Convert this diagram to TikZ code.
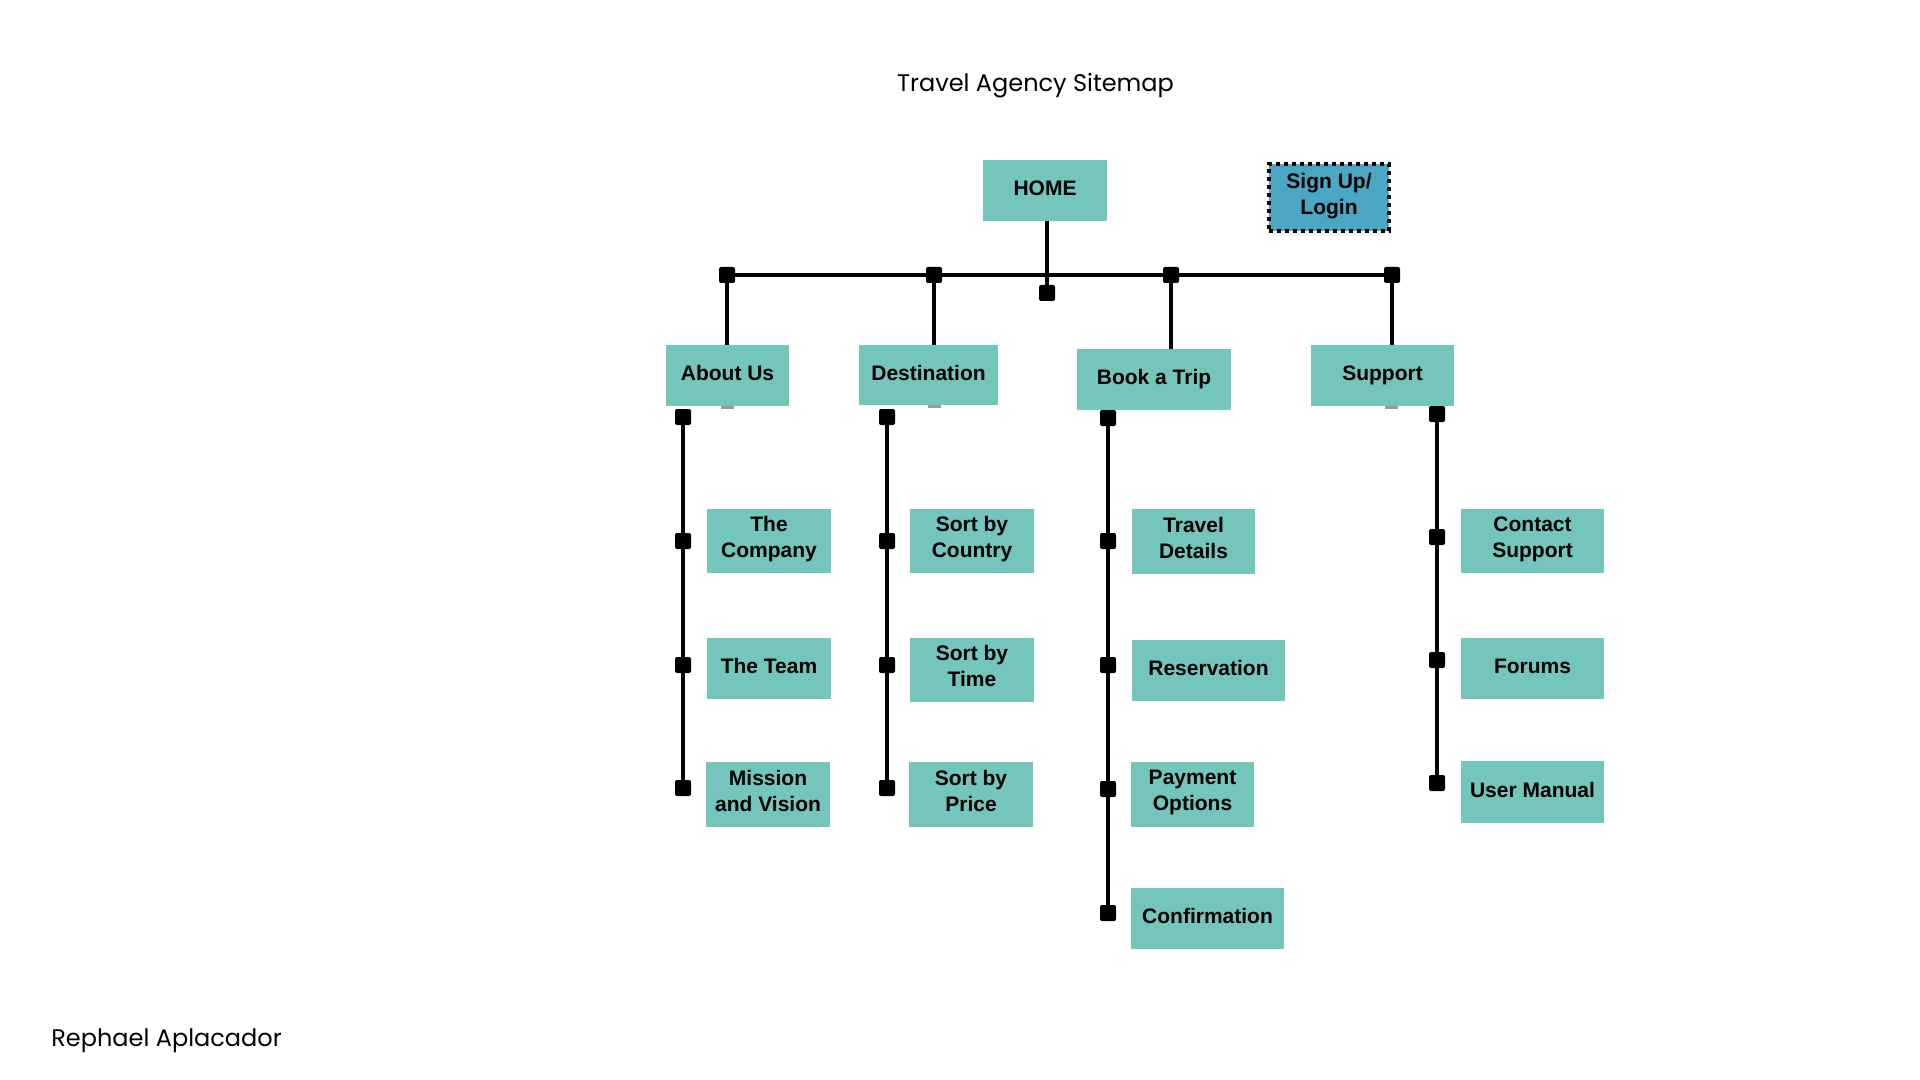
\documentclass[tikz,border=0pt]{standalone}
\usepackage{fontspec}
\setmainfont{Liberation Sans}
\newfontfamily\popfont{Poppins}
\definecolor{teal1}{HTML}{74C5BC}
\definecolor{blue1}{HTML}{4BA6C4}
\definecolor{tickgray}{HTML}{9A9A9A}
\tikzset{
  box/.style={rectangle,fill=teal1,draw=none,inner sep=0pt},
  lbl/.style={inner sep=0pt,align=center,font=\bfseries\fontsize{10.5}{13}\selectfont,
    execute at begin node=\strut,execute at end node=\strut},
  jn/.style={rectangle,fill=black,draw=none,minimum size=8pt,inner sep=0pt,rounded corners=1pt},
  wire/.style={line width=2pt,black},
  titlefont/.style={font=\popfont\fontsize{12}{14}\selectfont,inner sep=0pt}
}
\newcommand\mkbox[6]{\node[box,minimum width=#4*0.5pt,minimum height=#5*0.5pt] (#1) at (#2,#3) {};
  \node[lbl] (#1t) at ([yshift=0.1pt]#1.center) {#6};}
\newcommand\mkjn[3]{\node[jn] (#1) at (#2,#3) {};}
\begin{document}
\begin{tikzpicture}[x=0.5pt,y=-0.5pt]
\fill[white] (0,0) rectangle (1920,1080);
\useasboundingbox (0,0) rectangle (1920,1080);

% titles
\node[titlefont,anchor=base] (title) at (1035.5,91.5) {Travel Agency Sitemap};
\node[titlefont,anchor=base west] (author) at (51,1046) {Rephael Aplacador};

% gray ticks under level-1 boxes
\fill[tickgray] (720.5,405) rectangle (733.5,408.5);
\fill[tickgray] (927.5,404) rectangle (940.5,407.5);
\fill[tickgray] (1385,405) rectangle (1398,408.5);

% boxes
\mkbox{home}{1045}{190.5}{124}{61}{HOME}
\node[rectangle,fill=blue1,draw=black,line width=2pt,dash pattern=on 2pt off 2pt,
      minimum width=60pt,minimum height=33.5pt,inner sep=0pt] (signup) at (1329,197.5) {};
\node[lbl] (signupt) at ([yshift=-0.2pt]signup.center) {Sign Up/\\Login};

\mkbox{about}{727.5}{375.5}{123}{61}{About Us}
\mkbox{dest}{928.5}{375}{139}{60}{Destination}
\mkbox{book}{1154}{379.5}{154}{61}{Book a Trip}
\mkbox{support}{1382.5}{375.5}{143}{61}{Support}

\mkbox{company}{769}{541}{124}{64}{The\\Company}
\mkbox{team}{769}{668.5}{124}{61}{The Team}
\mkbox{mission}{768}{794.5}{124}{65}{Mission\\and Vision}

\mkbox{country}{972}{541}{124}{64}{Sort by\\Country}
\mkbox{time}{972}{670}{124}{64}{Sort by\\Time}
\mkbox{price}{971}{794.5}{124}{65}{Sort by\\Price}

\mkbox{travel}{1193.5}{541.5}{123}{65}{Travel\\Details}
\mkbox{reserv}{1208.5}{670.5}{153}{61}{Reservation}
\mkbox{payment}{1192.5}{794.5}{123}{65}{Payment\\Options}
\mkbox{confirm}{1207.5}{918.5}{153}{61}{Confirmation}

\mkbox{contact}{1532.5}{541}{143}{64}{Contact\\Support}
\mkbox{forums}{1532.5}{668.5}{143}{61}{Forums}
\mkbox{manual}{1532.5}{792}{143}{62}{User Manual}

% bus and junctions
\mkjn{j1}{727}{275}
\mkjn{j2}{934}{275}
\mkjn{j3}{1171}{275}
\mkjn{j4}{1392}{275}
\mkjn{jh}{1047}{293}
\draw[wire] (j1.center) -- (j4.center);
\draw[wire] (home.south -| jh) -- (jh.center);
\draw[wire] (j1.center) -- (j1 |- about.north);
\draw[wire] (j2.center) -- (j2 |- dest.north);
\draw[wire] (j3.center) -- (j3 |- book.north);
\draw[wire] (j4.center) -- (j4 |- support.north);

% About Us stack
\mkjn{a0}{683}{417}
\mkjn{a1}{683}{541}
\mkjn{a2}{683}{665}
\mkjn{a3}{683}{788}
\draw[wire] (a0.center) -- (a3.center);

% Destination stack
\mkjn{d0}{887}{417}
\mkjn{d1}{887}{541}
\mkjn{d2}{887}{665}
\mkjn{d3}{887}{788}
\draw[wire] (d0.center) -- (d3.center);

% Book a Trip stack
\mkjn{b0}{1108}{418}
\mkjn{b1}{1108}{541}
\mkjn{b2}{1108}{665}
\mkjn{b3}{1108}{789}
\mkjn{b4}{1108}{913}
\draw[wire] (b0.center) -- (b4.center);

% Support stack
\mkjn{s0}{1437}{414}
\mkjn{s1}{1437}{537}
\mkjn{s2}{1437}{660}
\mkjn{s3}{1437}{783}
\draw[wire] (s0.center) -- (s3.center);
\end{tikzpicture}
\end{document}
